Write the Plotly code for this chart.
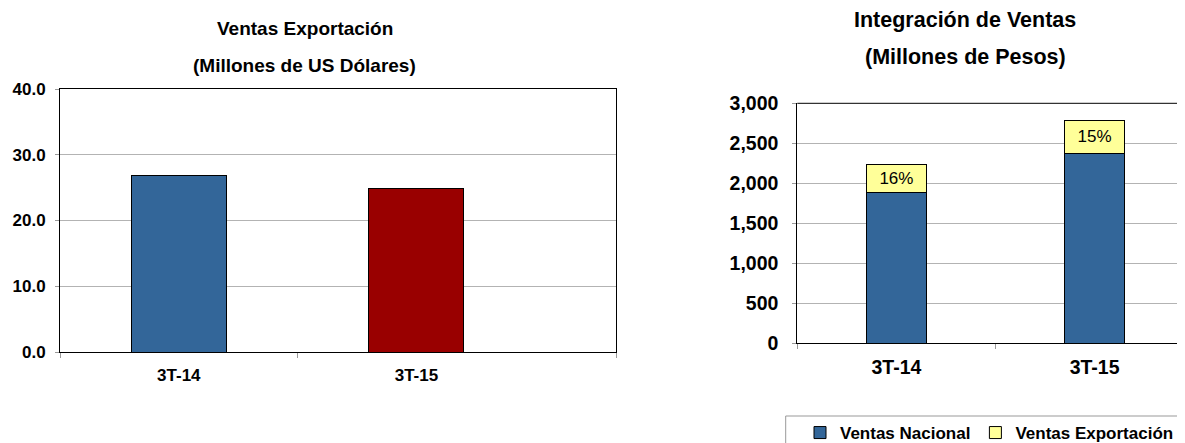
import plotly.graph_objects as go

# ---- data ----
categories = ["3T-14", "3T-15"]
export_usd = [26.8, 24.9]          # Ventas Exportación (Millones de US Dólares)
ventas_nacional = [1882, 2370]     # Millones de Pesos
ventas_exportacion = [355, 421]    # Millones de Pesos
left_colors = ["#336699", "#990000"]

# page body has an 8px margin, so the figure is sized/offset to compensate
OFF = 8
W, H = 1185 - OFF, 443 - OFF
def px(x): return (x - OFF) / W
def py(y): return 1 - (y - OFF) / H

FONT = "Liberation Sans, Arial, sans-serif"
totals = [n + e for n, e in zip(ventas_nacional, ventas_exportacion)]
pct = [f"{round(e / t * 100)}%" for e, t in zip(ventas_exportacion, totals)]
xpos = list(range(len(categories)))

fig = go.Figure()

# Left chart
fig.add_trace(go.Bar(
    x=xpos, y=export_usd, width=0.4,
    marker=dict(color=left_colors, line=dict(color="black", width=1)),
    showlegend=False, xaxis="x", yaxis="y",
))

# Right chart (stacked)
fig.add_trace(go.Bar(
    x=xpos, y=ventas_nacional, width=0.305, name="Ventas Nacional",
    marker=dict(color="#336699", line=dict(color="black", width=1)),
    xaxis="x2", yaxis="y2",
))
fig.add_trace(go.Bar(
    x=xpos, y=ventas_exportacion, width=0.305, name="Ventas Exportación",
    marker=dict(color="#FFFF99", line=dict(color="black", width=1)),
    text=pct, textposition="inside", insidetextanchor="middle", textangle=0,
    constraintext="none",
    textfont=dict(family=FONT, size=17, color="black"),
    xaxis="x2", yaxis="y2",
))

grid = "#b3b3b3"
fig.update_layout(
    width=W, height=H, autosize=False,
    margin=dict(l=0, r=0, t=0, b=0, autoexpand=False),
    paper_bgcolor="white", plot_bgcolor="white",
    barmode="stack",
    font=dict(family=FONT, color="black"),
    xaxis=dict(
        domain=[px(60), px(616)], range=[-0.5, 1.84],
        tickmode="array", tickvals=xpos, ticktext=categories, ticks="",
        tickfont=dict(size=17, family=FONT, weight="bold"),
        showgrid=False, zeroline=False,
        showline=True, linecolor="black", linewidth=1, mirror=True,
        ticklabelstandoff=8,
        minor=dict(tickmode="array", tickvals=[-0.5, 0.5, 1.84], ticks="outside",
                   ticklen=5, tickcolor="#999999", showgrid=False),
        anchor="y", fixedrange=True,
    ),
    yaxis=dict(
        domain=[py(352), py(89)], range=[0, 40], dtick=10, tickformat=".1f",
        tickfont=dict(size=17, family=FONT, weight="bold"),
        showgrid=True, gridcolor=grid, gridwidth=1, zeroline=False,
        showline=True, linecolor="black", linewidth=1, mirror=True,
        ticks="outside", ticklen=4, tickcolor="#999999",
        ticklabelstandoff=6,
        anchor="x", fixedrange=True,
    ),
    xaxis2=dict(
        domain=[px(797.3), 1.0], range=[-0.5, 1.456],
        tickmode="array", tickvals=xpos, ticktext=categories, ticks="",
        tickfont=dict(size=19.5, family=FONT, weight="bold"),
        showgrid=False, zeroline=False,
        showline=True, linecolor="black", linewidth=1, mirror=False,
        ticklabelstandoff=6,
        minor=dict(tickmode="array", tickvals=[-0.5, 0.5], ticks="outside",
                   ticklen=5, tickcolor="#999999", showgrid=False),
        anchor="y2", fixedrange=True,
    ),
    yaxis2=dict(
        domain=[py(343.3), py(103.3)], range=[0, 3000], dtick=500, tickformat=",",
        tickfont=dict(size=19.5, family=FONT, weight="bold"),
        showgrid=True, gridcolor=grid, gridwidth=1, zeroline=False,
        showline=True, linecolor="black", linewidth=1,
        ticks="outside", ticklen=4, tickcolor="#999999",
        ticklabelstandoff=10,
        anchor="x2", fixedrange=True,
    ),
    legend=dict(
        orientation="h", x=px(800), y=py(433), xanchor="left", yanchor="middle",
        font=dict(size=17, family=FONT, weight="bold"),
        bgcolor="rgba(0,0,0,0)", traceorder="normal",
    ),
    shapes=[
        # top border of right chart
        dict(type="line", xref="paper", yref="paper", x0=px(797.3), x1=1.0,
             y0=py(103.3), y1=py(103.3), line=dict(color="black", width=1)),
        # legend frame (extends past figure edge)
        dict(type="rect", xref="paper", yref="paper", x0=px(785.7), x1=1.02,
             y0=py(416), y1=-0.05, line=dict(color="#999999", width=1),
             fillcolor="rgba(0,0,0,0)"),
    ],
    annotations=[
        dict(text="<b>Ventas Exportación</b>", x=px(305), y=py(29), xref="paper", yref="paper",
             showarrow=False, font=dict(size=19, family=FONT), xanchor="center", yanchor="middle"),
        dict(text="<b>(Millones de US Dólares)</b>", x=px(305), y=py(65), xref="paper", yref="paper",
             showarrow=False, font=dict(size=19, family=FONT), xanchor="center", yanchor="middle"),
        dict(text="<b>Integración de Ventas</b>", x=px(965), y=py(20), xref="paper", yref="paper",
             showarrow=False, font=dict(size=21.5, family=FONT), xanchor="center", yanchor="middle"),
        dict(text="<b>(Millones de Pesos)</b>", x=px(965.5), y=py(57), xref="paper", yref="paper",
             showarrow=False, font=dict(size=21.5, family=FONT), xanchor="center", yanchor="middle"),
    ],
)

fig.write_html("out.html")
